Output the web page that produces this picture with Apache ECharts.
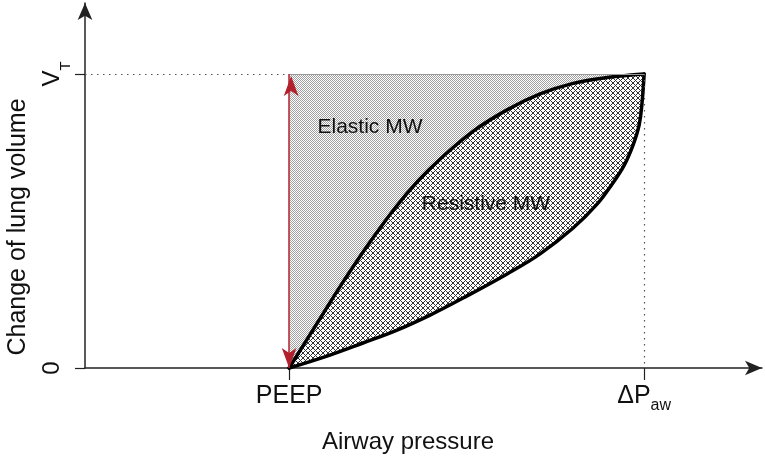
<!DOCTYPE html>
<html>
<head>
<meta charset="utf-8">
<script src="https://cdn.jsdelivr.net/npm/echarts@6/dist/echarts.min.js"></script>
<style>
html, body { margin: 0; padding: 0; background: #fff; }
#chart { width: 765px; height: 464px; }
</style>
</head>
<body>
<div id="chart"></div>
<script>
// pressure: PEEP = 0, ΔPaw = 1 ; volume: 0 .. VT = 1
const xRange = [-0.575, 1.332];
const yRange = [0, 1.2415];
const xTicks = [0, 1];
const yTicks = [0, 1];

// upper curve
const upperX = [0, 0.082, 0.149, 0.223, 0.299, 0.363, 0.425, 0.518, 0.614, 0.707, 0.8, 0.896, 1];
const upperY = [0, 0.158, 0.287, 0.420, 0.545, 0.636, 0.710, 0.805, 0.878, 0.932, 0.968, 0.988, 1];
// lower curve
const lowerX = [0, 0.115, 0.208, 0.304, 0.397, 0.490, 0.614, 0.707, 0.8, 0.868, 0.910, 0.944, 0.969, 0.986, 0.994, 1];
const lowerY = [0, 0.044, 0.085, 0.129, 0.180, 0.238, 0.320, 0.388, 0.476, 0.558, 0.626, 0.690, 0.759, 0.827, 0.901, 1];

const upper = upperX.map((x, i) => [x, upperY[i]]);
const lower = lowerX.map((x, i) => [x, lowerY[i]]);

const font = '"Liberation Sans", Arial, Helvetica, sans-serif';
const red = '#b2202c';

// fill patterns
function makeTile(size, test, col) {
	const c = document.createElement('canvas');
	c.width = size; c.height = size;
	const ctx = c.getContext('2d');
	ctx.fillStyle = '#fff';
	ctx.fillRect(0, 0, size, size);
	ctx.fillStyle = col;
	for (let i = 0; i < size; i++) {
		for (let j = 0; j < size; j++) {
			if (test(i, j)) ctx.fillRect(i, j, 1, 1);
		}
	}
	return c;
}
const dotTile = makeTile(2, (i, j) => (i + j) % 2 === 0, '#a0a0a0');
const hatchTile = makeTile(5, (i, j) => (i + j) % 5 === 0 || (i - j + 5) % 5 === 0, '#333');

const elasticPoly = upper.concat([[0, 1]]);
const resistivePoly = upper.concat(lower.slice().reverse());

const polySeries = (pts, tile, z) => ({
	type: 'custom',
	z: z,
	silent: true,
	data: [[0, 0]],
	renderItem: (params, api) => ({
		type: 'polygon',
		shape: { points: pts.map(p => api.coord(p)) },
		style: { fill: { image: tile, repeat: 'repeat' }, stroke: null }
	})
});

// smooth curve drawn through the read points
const curveSeries = pts => ({
	type: 'custom',
	z: 4,
	silent: true,
	data: [[0, 0]],
	renderItem: (params, api) => ({
		type: 'polyline',
		shape: { points: pts.map(p => api.coord(p)), smooth: 0.4 },
		style: { stroke: '#000', lineWidth: 3.5, fill: null, lineJoin: 'round', lineCap: 'round' }
	})
});

const chart = echarts.init(document.getElementById('chart'));

chart.setOption({
	animation: false,
	grid: { left: 85, right: 3, top: 3, bottom: 96, containLabel: false },
	xAxis: {
		type: 'value',
		min: xRange[0],
		max: xRange[1],
		splitLine: { show: false },
		axisLine: {
			show: true,
			onZero: false,
			lineStyle: { color: '#222', width: 1.5 },
			symbol: ['none', 'arrow'],
			symbolSize: [11, 17]
		},
		axisTick: { show: true, customValues: xTicks, length: 12, lineStyle: { color: '#222', width: 1.2 } },
		axisLabel: {
			customValues: xTicks,
			margin: 16,
			color: '#111',
			fontFamily: font,
			fontSize: 25,
			formatter: v => v === 0 ? 'PEEP' : '{d|ΔP}{s|aw}',
			rich: {
				d: { fontFamily: font, fontSize: 25, lineHeight: 25, verticalAlign: 'top', color: '#111' },
				s: { fontFamily: font, fontSize: 16, lineHeight: 16, padding: [14, 0, 0, 0], verticalAlign: 'top', color: '#111' }
			}
		}
	},
	yAxis: {
		type: 'value',
		min: yRange[0],
		max: yRange[1],
		splitLine: { show: false },
		axisLine: {
			show: true,
			onZero: false,
			lineStyle: { color: '#222', width: 1.5 },
			symbol: ['none', 'arrow'],
			symbolSize: [11, 17]
		},
		axisTick: { show: true, customValues: yTicks, length: 10, lineStyle: { color: '#222', width: 1.2 } },
		axisLabel: {
			customValues: yTicks,
			rotate: 90,
			margin: 33,
			align: 'center',
			verticalAlign: 'middle',
			color: '#111',
			fontFamily: font,
			fontSize: 24,
			formatter: v => v === 0 ? '0' : '{d|V}{s|T}',
			rich: {
				d: { fontFamily: font, fontSize: 24, lineHeight: 24, verticalAlign: 'top', color: '#111' },
				s: { fontFamily: font, fontSize: 15, lineHeight: 15, padding: [18, 0, 0, 0], verticalAlign: 'top', color: '#111' }
			}
		}
	},
	graphic: [
		{ type: 'text', x: 408, y: 442, style: { text: 'Airway pressure', font: '24px ' + font, fill: '#111', align: 'center', verticalAlign: 'middle' } },
		{ type: 'text', x: 18, y: 227, rotation: Math.PI / 2, style: { text: 'Change of lung volume', font: '25px ' + font, fill: '#111', align: 'center', verticalAlign: 'middle' } },
		{ type: 'text', x: 370, y: 127, z: 50, style: { text: 'Elastic MW', font: '21px ' + font, fill: '#111', align: 'center', verticalAlign: 'middle' } },
		{ type: 'text', x: 486, y: 204, z: 50, style: { text: 'Resistive MW', font: '21px ' + font, fill: '#111', align: 'center', verticalAlign: 'middle' } }
	],
	series: [
		polySeries(elasticPoly, dotTile, 1),
		polySeries(resistivePoly, hatchTile, 2),
		{
			type: 'line',
			data: [],
			z: 3,
			markLine: {
				silent: true,
				symbol: 'none',
				animation: false,
				label: { show: false },
				data: [
					[{ coord: [xRange[0], 1], lineStyle: { type: [1.5, 4.5], color: '#555', width: 1.2 } }, { coord: [0, 1] }],
					[{ coord: [1, 1], lineStyle: { type: [1.5, 4.5], color: '#555', width: 1.2 } }, { coord: [1, 0] }],
					[{ coord: [0, 1], lineStyle: { type: 'solid', color: '#999', width: 1 } }, { coord: [1, 1] }]
				]
			}
		},
		curveSeries(upper),
		curveSeries(lower),
		{
			type: 'line',
			data: [],
			z: 5,
			markLine: {
				silent: true,
				animation: false,
				symbol: ['arrow', 'arrow'],
				symbolSize: [11, 20],
				symbolOffset: [0, 2],
				label: { show: false },
				lineStyle: { color: red, width: 1.5, type: 'solid' },
				itemStyle: { color: red },
				data: [[{ coord: [0, 0] }, { coord: [0, 1] }]]
			}
		}
	]
});
</script>
</body>
</html>
